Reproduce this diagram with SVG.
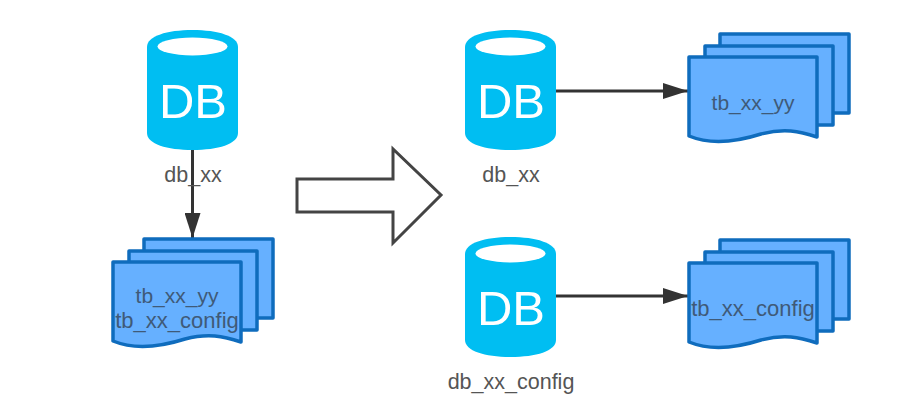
<svg xmlns="http://www.w3.org/2000/svg" width="907" height="402" viewBox="0 0 907 402">
<style>
text{font-family:"Liberation Sans",Arial,sans-serif}
.lbl{font-size:21.500px;fill:#555;text-anchor:middle}
.db{font-size:49px;fill:#fff;text-anchor:middle}
.doc{font-size:22px;fill:#3f5a78;text-anchor:middle}
.yy{font-size:21px}
.page{fill:#66b0ff;stroke:#0f6cbd;stroke-width:3.500;stroke-linejoin:round}
.edge{fill:none;stroke:#333;stroke-width:3}
</style>
<defs>
<g id="cyl">
<path d="M0 17C0 6 20 0 45.500 0S91 6 91 17V103C91 114 71 120 45.500 120S0 114 0 103Z" fill="#00bef2"/>
<ellipse cx="45.500" cy="16.500" rx="35" ry="9" fill="#fff"/>
</g>
<g id="stack">
<rect x="31" y="-23" width="129" height="79" class="page"/>
<rect x="16" y="-11" width="128" height="79" class="page"/>
<path d="M0 0H128V80C110 74 95 71 72 77C50 84 22 88 0 79Z" class="page"/>
</g>
<marker id="ah" markerUnits="userSpaceOnUse" markerWidth="26" markerHeight="16" refX="25" refY="8" orient="auto"><path d="M0 0L25 8L0 16Z" fill="#333"/></marker>
</defs>
<rect width="907" height="402" fill="#fff"/>
<g id="connectors">
<path class="edge" d="M192.500 150V238" marker-end="url(#ah)"/>
<path class="edge" d="M556 91H688" marker-end="url(#ah)"/>
<path class="edge" d="M556 296H688" marker-end="url(#ah)"/>
</g>
<g id="node-db-left">
<use href="#cyl" x="147" y="30"/>
<text class="db" x="193" y="118">DB</text>
<text class="lbl" x="193" y="182">db_xx</text>
</g>
<g id="node-tables-left">
<use href="#stack" x="113" y="262"/>
<text class="doc yy" x="177" y="303">tb_xx_yy</text>
<text class="doc" x="177" y="328">tb_xx_config</text>
</g>
<g id="node-big-arrow">
<path d="M297 179H393V149L441 195L393 243V212H297Z" fill="#fff" stroke="#444" stroke-width="3"/>
</g>
<g id="node-db-top">
<use href="#cyl" x="465" y="30"/>
<text class="db" x="511" y="118">DB</text>
<text class="lbl" x="511" y="182">db_xx</text>
</g>
<g id="node-table-top">
<use href="#stack" x="689" y="57"/>
<text class="doc yy" x="753" y="110">tb_xx_yy</text>
</g>
<g id="node-db-bottom">
<use href="#cyl" x="465" y="237"/>
<text class="db" x="511" y="325">DB</text>
<text class="lbl" x="511" y="389">db_xx_config</text>
</g>
<g id="node-table-bottom">
<use href="#stack" x="689" y="263"/>
<text class="doc" x="753" y="316">tb_xx_config</text>
</g>
</svg>
